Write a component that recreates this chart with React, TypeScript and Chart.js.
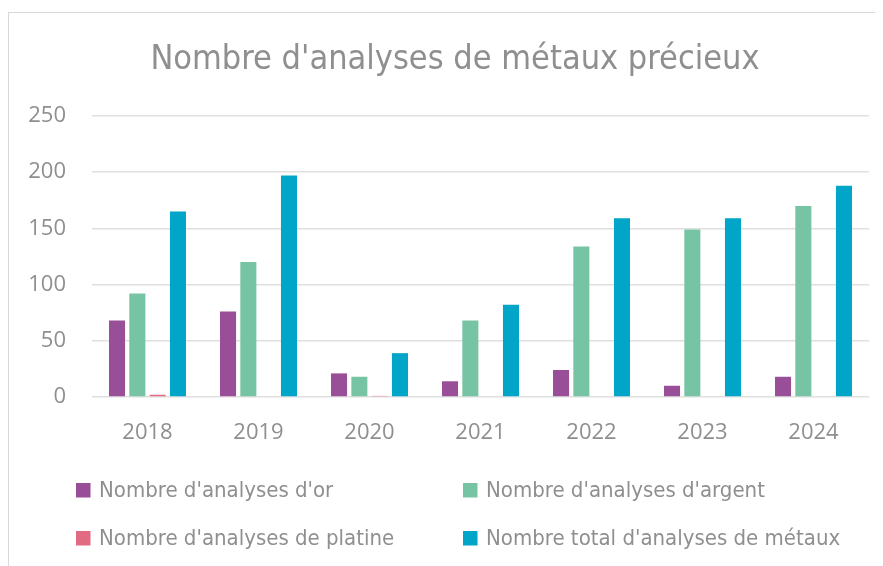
import React, { useEffect, useRef } from "react";
import { Chart, registerables } from "chart.js";

Chart.register(...registerables);

const TITLE = "Nombre d'analyses de métaux précieux";
const YEARS = ["2018", "2019", "2020", "2021", "2022", "2023", "2024"];
const SERIES_NAMES = [
  "Nombre d'analyses d'or",
  "Nombre d'analyses d'argent",
  "Nombre d'analyses de platine",
  "Nombre total d'analyses de métaux",
];
const OR_VALUES = [68, 76, 21, 14, 24, 10, 18];
const ARGENT_VALUES = [92, 120, 18, 68, 134, 149, 170];
const PLATINE_VALUES = [2, 0, 1, 0, 0, 0, 0];
const TOTAL_VALUES = [165, 197, 39, 82, 159, 159, 188];
const COLORS = ["#984F98", "#76C4A3", "#E06B82", "#00A5C8"];
const Y_TICKS = [0, 50, 100, 150, 200, 250];

const TEXT_COLOR = "#8f8f8f";
const NARROW = "'DejaVu Sans Condensed', 'Liberation Sans Narrow', sans-serif";

const titleAndLegend = {
  id: "titleAndLegend",
  afterDraw(chart: any) {
    const ctx = chart.ctx;
    const area = chart.chartArea;
    ctx.save();
    // title
    ctx.font = `34px ${NARROW}`;
    ctx.fillStyle = TEXT_COLOR;
    ctx.textAlign = "center";
    ctx.textBaseline = "middle";
    ctx.fillText(TITLE, 446, 47);
    // legend (2 x 2 grid)
    const cols = [67, 454];
    const rows = [area.bottom + 93, area.bottom + 141];
    ctx.font = `22px ${NARROW}`;
    ctx.textAlign = "left";
    chart.data.datasets.forEach((ds: any, i: number) => {
      const x = cols[i % 2];
      const y = rows[Math.floor(i / 2)];
      ctx.fillStyle = ds.backgroundColor;
      ctx.fillRect(x, y - 7, 14.5, 14.5);
      ctx.fillStyle = TEXT_COLOR;
      ctx.fillText(ds.label, x + 23, y + 1);
    });
    ctx.restore();
  },
};

export default function App() {
  const ref = useRef<HTMLCanvasElement | null>(null);
  useEffect(() => {
    if (!ref.current) return;
    const values = [OR_VALUES, ARGENT_VALUES, PLATINE_VALUES, TOTAL_VALUES];
    const chart = new Chart(ref.current, {
      type: "bar",
      data: {
        labels: YEARS,
        datasets: SERIES_NAMES.map((name, i) => ({
          label: name,
          data: values[i],
          backgroundColor: COLORS[i],
          borderWidth: 0,
          categoryPercentage: 0.732,
          barPercentage: 0.79,
        })),
      },
      options: {
        responsive: false,
        animation: false,
        layout: { padding: { left: 0, right: 32, top: 103, bottom: 120 } },
        plugins: {
          legend: { display: false },
          tooltip: { enabled: false },
          title: { display: false },
        },
        scales: {
          x: {
            grid: { display: false, drawTicks: false },
            border: { display: false },
            afterFit: (s: any) => {
              s.height = 49;
            },
            ticks: {
              color: TEXT_COLOR,
              font: { family: "'Open Sans', sans-serif", size: 22 },
              padding: 23,
            },
          },
          y: {
            min: 0,
            max: 250,
            afterBuildTicks: (s: any) => {
              s.ticks = Y_TICKS.map((v) => ({ value: v }));
            },
            afterFit: (s: any) => {
              s.width = 83;
            },
            grid: { color: "#e0e0e0", lineWidth: 1.5, drawTicks: false },
            border: { display: false },
            ticks: {
              color: TEXT_COLOR,
              font: { family: "'Open Sans', sans-serif", size: 22 },
              padding: 26,
            },
          },
        },
      },
      plugins: [titleAndLegend],
    });
    return () => chart.destroy();
  }, []);

  return (
    <div
      style={{
        width: 875,
        height: 554,
        marginTop: 4,
        overflow: "hidden",
        position: "relative",
      }}
    >
      <div
        style={{
          position: "absolute",
          left: 0,
          top: 0,
          width: 900,
          height: 600,
          borderLeft: "1px solid #d9d9d9",
          borderTop: "1px solid #d9d9d9",
        }}
      />
      <canvas
        ref={ref}
        width={892}
        height={553}
        style={{ position: "absolute", left: 1, top: 1, width: 892, height: 553 }}
      />
    </div>
  );
}
